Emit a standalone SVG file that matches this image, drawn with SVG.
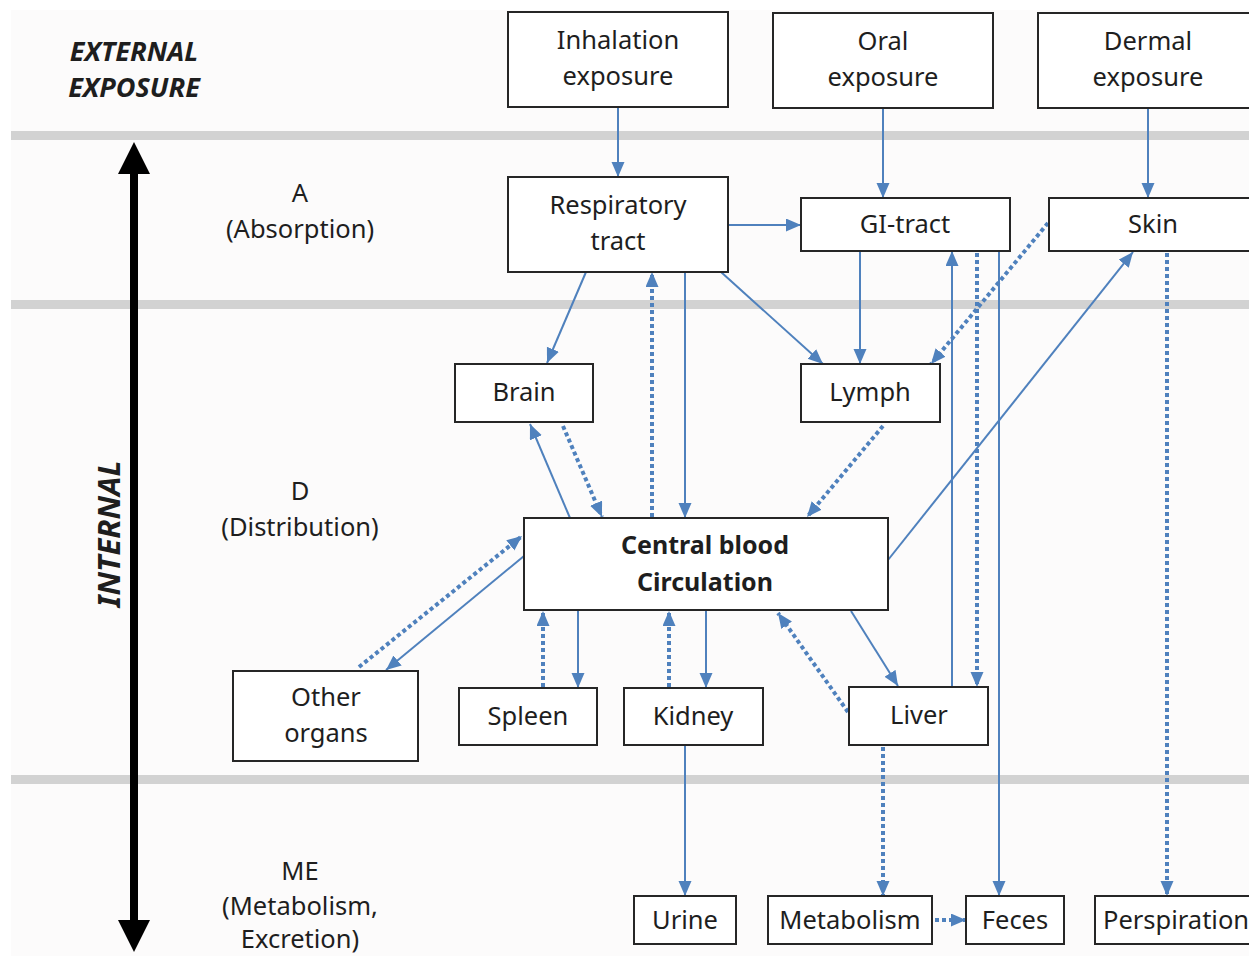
<svg xmlns="http://www.w3.org/2000/svg" width="1249" height="956" viewBox="0 0 1249 956">
<defs>
<style>
.box{fill:#ffffff;stroke:#262626;stroke-width:2}
.t{font-family:"Noto Sans","Open Sans",sans-serif;font-size:25.5px;fill:#1e1e1e;text-anchor:middle}
.tb{font-family:"Noto Sans","Open Sans",sans-serif;font-size:25px;font-weight:bold;fill:#1e1e1e;text-anchor:middle}
.lab{font-family:"Noto Sans","Open Sans",sans-serif;font-size:27px;font-weight:bold;font-style:italic;fill:#1e1e1e;text-anchor:middle}
.band{fill:#d2d2d2}
.s{fill:none;stroke:#4f81bd;stroke-width:2;marker-end:url(#ah)}
.d{fill:none;stroke:#4f81bd;stroke-width:4;stroke-dasharray:4 3;marker-end:url(#ah)}
</style>
<marker id="ah" markerUnits="userSpaceOnUse" markerWidth="16" markerHeight="14" refX="15" refY="6.5" orient="auto">
<path d="M0,0 L15,6.5 L0,13 z" fill="#4f81bd"/>
</marker>
</defs>
<rect x="0" y="0" width="1249" height="956" fill="#ffffff"/>
<rect x="11" y="10" width="1238" height="946" fill="#fcfbfb"/>
<g id="bands">
<rect class="band" x="11" y="131" width="1238" height="9"/>
<rect class="band" x="11" y="300" width="1238" height="9"/>
<rect class="band" x="11" y="775" width="1238" height="9"/>
</g>
<g id="phase-labels">
<text class="lab" x="134" y="61">EXTERNAL</text>
<text class="lab" x="134" y="97">EXPOSURE</text>
<text class="lab" style="font-size:31px" transform="translate(120,534) rotate(-90)">INTERNAL</text>
<text class="t" x="300" y="202">A</text>
<text class="t" x="300" y="238">(Absorption)</text>
<text class="t" x="300" y="500">D</text>
<text class="t" x="300" y="536">(Distribution)</text>
<text class="t" x="300" y="880">ME</text>
<text class="t" x="300" y="915">(Metabolism,</text>
<text class="t" x="300" y="948">Excretion)</text>
</g>
<g id="axis-arrow">
<line x1="134" y1="170" x2="134" y2="922" stroke="#000" stroke-width="8"/>
<path d="M134,142 L150,174 L118,174 z" fill="#000"/>
<path d="M134,952 L150,920 L118,920 z" fill="#000"/>
</g>
<g id="connectors">
<line class="s" x1="618" y1="107" x2="618" y2="177"/>
<line class="s" x1="883" y1="108" x2="883" y2="198"/>
<line class="s" x1="1148" y1="108" x2="1148" y2="198"/>
<line class="s" x1="728" y1="225" x2="801" y2="225"/>
<line class="s" x1="586" y1="272" x2="547" y2="363"/>
<line class="d" x1="652" y1="517" x2="652" y2="272"/>
<line class="s" x1="685" y1="272" x2="685" y2="518"/>
<line class="s" x1="721" y1="272" x2="823" y2="364"/>
<line class="s" x1="860" y1="251" x2="860" y2="364"/>
<line class="s" x1="952" y1="687" x2="952" y2="251"/>
<line class="d" x1="977" y1="253" x2="977" y2="687"/>
<line class="s" x1="999" y1="251" x2="999" y2="896"/>
<line class="d" x1="1048" y1="223" x2="931" y2="364"/>
<line class="s" x1="888" y1="560" x2="1133" y2="252"/>
<line class="d" x1="1167" y1="253" x2="1167" y2="896"/>
<line class="s" x1="570" y1="518" x2="530" y2="424"/>
<line class="d" x1="563" y1="426" x2="602" y2="517"/>
<line class="d" x1="883" y1="426" x2="807" y2="517"/>
<line class="d" x1="359" y1="667" x2="522" y2="536"/>
<line class="s" x1="524" y1="556" x2="386" y2="670"/>
<line class="d" x1="543" y1="687" x2="543" y2="611"/>
<line class="s" x1="578" y1="611" x2="578" y2="688"/>
<line class="d" x1="669" y1="687" x2="669" y2="611"/>
<line class="s" x1="706" y1="611" x2="706" y2="688"/>
<line class="d" x1="848" y1="712" x2="778" y2="613"/>
<line class="s" x1="851" y1="611" x2="898" y2="686"/>
<line class="s" x1="685" y1="745" x2="685" y2="896"/>
<line class="d" x1="883" y1="747" x2="883" y2="896"/>
<line class="d" x1="935" y1="920" x2="966" y2="920"/>
</g>
<g id="inhalation"><rect class="box" x="508" y="12" width="220" height="95"/><text class="t" x="618" y="49">Inhalation</text><text class="t" x="618" y="85">exposure</text></g>
<g id="oral"><rect class="box" x="773" y="13" width="220" height="95"/><text class="t" x="883" y="50">Oral</text><text class="t" x="883" y="86">exposure</text></g>
<g id="dermal"><rect class="box" x="1038" y="13" width="220" height="95"/><text class="t" x="1148" y="50">Dermal</text><text class="t" x="1148" y="86">exposure</text></g>
<g id="respiratory"><rect class="box" x="508" y="177" width="220" height="95"/><text class="t" x="618" y="214">Respiratory</text><text class="t" x="618" y="250">tract</text></g>
<g id="gi-tract"><rect class="box" x="801" y="198" width="209" height="53"/><text class="t" x="905" y="233">GI-tract</text></g>
<g id="skin"><rect class="box" x="1049" y="198" width="210" height="53"/><text class="t" x="1153" y="233">Skin</text></g>
<g id="brain"><rect class="box" x="455" y="364" width="138" height="58"/><text class="t" x="524" y="401">Brain</text></g>
<g id="lymph"><rect class="box" x="801" y="364" width="139" height="58"/><text class="t" x="870" y="401">Lymph</text></g>
<g id="central"><rect class="box" x="524" y="518" width="364" height="92"/><text class="tb" x="705" y="554">Central blood</text><text class="tb" x="705" y="591">Circulation</text></g>
<g id="other-organs"><rect class="box" x="233" y="671" width="185" height="90"/><text class="t" x="326" y="706">Other</text><text class="t" x="326" y="742">organs</text></g>
<g id="spleen"><rect class="box" x="459" y="688" width="138" height="57"/><text class="t" x="528" y="725">Spleen</text></g>
<g id="kidney"><rect class="box" x="624" y="688" width="139" height="57"/><text class="t" x="693" y="725">Kidney</text></g>
<g id="liver"><rect class="box" x="849" y="687" width="139" height="58"/><text class="t" x="919" y="724">Liver</text></g>
<g id="urine"><rect class="box" x="634" y="896" width="102" height="48"/><text class="t" x="685" y="929">Urine</text></g>
<g id="metabolism"><rect class="box" x="768" y="896" width="164" height="48"/><text class="t" x="850" y="929">Metabolism</text></g>
<g id="feces"><rect class="box" x="966" y="896" width="98" height="48"/><text class="t" x="1015" y="929">Feces</text></g>
<g id="perspiration"><rect class="box" x="1095" y="896" width="170" height="48"/><text class="t" x="1103" y="929" style="text-anchor:start">Perspiration</text></g>
</svg>
